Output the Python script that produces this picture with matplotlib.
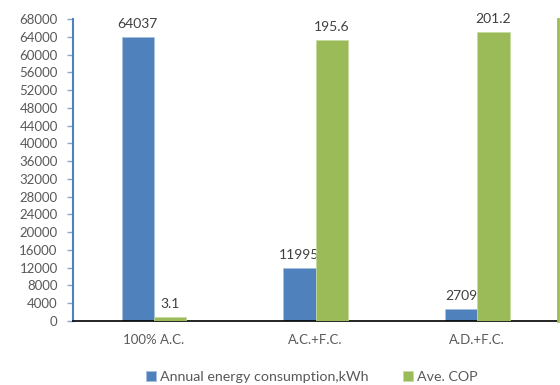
import numpy as np
import matplotlib
matplotlib.use('Agg')
import matplotlib.pyplot as plt

# datos por escenario
escenarios = ['100% A.C.', 'A.C.+F.C.', 'A.D.+F.C.']
consumo_kwh = [64037, 11995, 2709]
cop_medio = [3.1, 195.6, 201.2]

azul = '#4F81BD'
verde = '#9BBB59'
gris = '#595959'

plt.rcParams['font.family'] = ['Lato', 'DejaVu Sans']
plt.rcParams['font.size'] = 9.5

fig = plt.figure(figsize=(5.6, 3.85), dpi=100)
ax1 = fig.add_axes([73/560, 1-321/385, 485/560, 302/385])
ax2 = ax1.twinx()

x = np.arange(len(escenarios)) + 0.5
ancho = 0.2

b1 = ax1.bar(x - ancho/2, consumo_kwh, ancho, color=azul, edgecolor='#A7C0DE', linewidth=0.5,
             label='Annual energy consumption,kWh')
b2 = ax2.bar(x + ancho/2, cop_medio, ancho, color=verde, edgecolor='#C6DAA2', linewidth=0.5,
             label='Ave. COP')

# etiquetas de valor sobre las barras
for rect, v in zip(b1, consumo_kwh):
    ax1.annotate(str(v), (rect.get_x() + rect.get_width()/2, v), xytext=(0, 5),
                 textcoords='offset points', ha='center', va='bottom', color='#404040', fontsize=10)
for rect, v in zip(b2, cop_medio):
    ax2.annotate(str(v), (rect.get_x() + rect.get_width()/2, v), xytext=(0, 5),
                 textcoords='offset points', ha='center', va='bottom', color='#404040', fontsize=10)

ax1.set_xlim(0, 3)
ax1.set_ylim(0, 68000)
ax1.set_yticks(np.arange(0, 68001, 4000))
ax2.set_ylim(0, 210)

ax1.set_xticks(x)
ax1.set_xticklabels(escenarios)
ax1.tick_params(axis='x', length=0, pad=9, colors=gris)
ax1.tick_params(axis='y', length=4, width=1, color='#86A6D0', labelcolor=gris, pad=7)
ax2.tick_params(axis='y', right=False, labelright=False)

for ax in (ax1, ax2):
    ax.spines['top'].set_visible(False)
ax1.spines['right'].set_visible(False)
ax2.spines['left'].set_visible(False)
ax2.spines['bottom'].set_visible(False)
ax1.spines['left'].set_color(azul)
ax1.spines['left'].set_linewidth(1.5)
ax2.spines['right'].set_color(verde)
ax2.spines['right'].set_linewidth(2)
ax1.spines['bottom'].set_color('black')
ax1.spines['bottom'].set_linewidth(1.2)

fig.legend(handles=[b1, b2], loc='center', bbox_to_anchor=(312/560, 1-377/385), ncol=2,
           frameon=False, handlelength=0.7, handleheight=0.7, handletextpad=0.3,
           columnspacing=2.4, labelcolor=gris, fontsize=10.3)

fig.savefig('out.png', dpi=100)
